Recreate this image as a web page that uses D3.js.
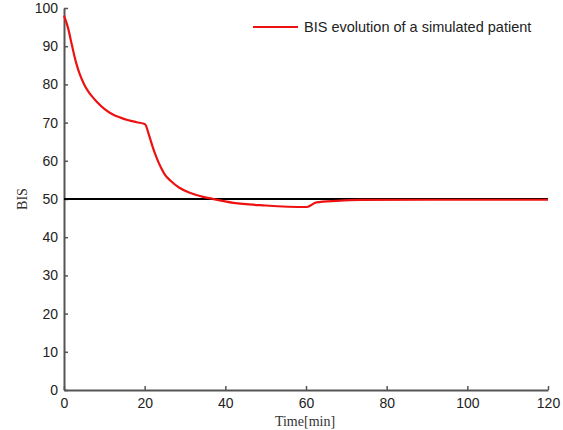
<!DOCTYPE html>
<html><head><meta charset="utf-8">
<script src="https://cdn.jsdelivr.net/npm/d3@7"></script>
<style>body{margin:0;background:#fff}</style>
</head><body>
<svg id="c" width="563" height="430"></svg>
<script>
const time = [0,1,2,3,4,5,6,7,8,10,12,14,16,18,20.1,21,22,23,24,25,26.5,28.5,31,34,37,42,50,60.2,62.6,67.6,73.4,90,120];
const bis  = [98,94.8,90.1,85.7,82.4,80.0,78.2,76.8,75.6,73.6,72.2,71.3,70.6,70.1,69.6,67.0,63.6,60.7,58.3,56.4,54.7,53.0,51.7,50.7,50.0,49.0,48.3,47.9,49.1,49.5,49.75,49.8,49.8];
const reference = [[0,50],[120,50]];
const xTicks = [0,20,40,60,80,100,120];
const yTicks = [0,10,20,30,40,50,60,70,80,90,100];
const legendLabel = "BIS evolution of a simulated patient";

const svg = d3.select("#c");
const x = d3.scaleLinear().domain([0,120]).range([64,548]);
const y = d3.scaleLinear().domain([0,100]).range([390,8]);

const axisColor = "#555";
const textColor = "#222";

const gx = svg.append("g").attr("transform","translate(0,390)")
  .call(d3.axisBottom(x).tickValues(xTicks).tickSizeInner(-4).tickSizeOuter(0).tickPadding(8));
const gy = svg.append("g").attr("transform","translate(64,0)")
  .call(d3.axisLeft(y).tickValues(yTicks).tickSizeInner(-4).tickSizeOuter(0).tickPadding(6));
[gx,gy].forEach(g=>{
  g.select(".domain").attr("stroke",axisColor).attr("stroke-width",2);
  g.selectAll(".tick line").attr("stroke",axisColor).attr("stroke-width",1.5);
  g.selectAll(".tick text").attr("fill",textColor).style("font-family","Liberation Sans, Arial, sans-serif").style("font-size","14px");
});

const line = d3.line().x(d=>x(d[0])).y(d=>y(d[1]));
svg.append("path").datum(reference).attr("d",line).attr("fill","none").attr("stroke","#000").attr("stroke-width",2);

const data = time.map((t,i)=>[t,bis[i]]);
svg.append("path").datum(data).attr("d",line.curve(d3.curveMonotoneX))
  .attr("fill","none").attr("stroke","#ee1111").attr("stroke-width",2.2);

svg.append("text").attr("x",305).attr("y",426).attr("text-anchor","middle")
  .style("font-family","Liberation Serif, Times New Roman, serif").style("font-size","14px").attr("fill","#333").text("Time[min]");
svg.append("text").attr("transform","translate(27,199) rotate(-90)").attr("text-anchor","middle")
  .style("font-family","Liberation Serif, Times New Roman, serif").style("font-size","14px").attr("fill","#333").text("BIS");

svg.append("line").attr("x1",253).attr("x2",298).attr("y1",27).attr("y2",27).attr("stroke","#ee1111").attr("stroke-width",2.2);
svg.append("text").attr("x",304).attr("y",32).style("font-family","Liberation Sans, Arial, sans-serif").style("font-size","14.5px").attr("fill",textColor).text(legendLabel);
</script>
</body></html>
